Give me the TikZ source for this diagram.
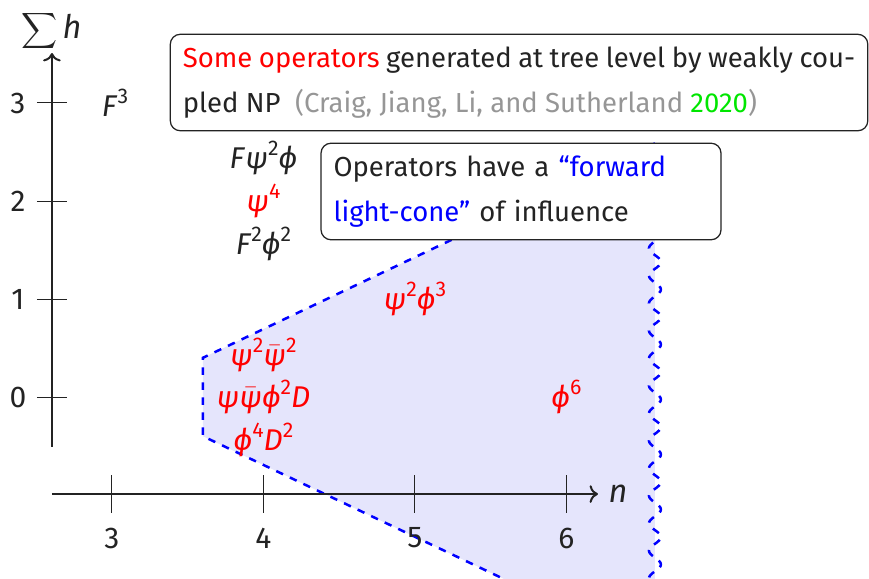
\documentclass[tikz,border=0pt]{standalone}
\usepackage{fontspec}
\setmainfont{Fira Sans}
\usepackage{tikz}
\usetikzlibrary{arrows.meta, decorations.pathmorphing}
\definecolor{conefill}{RGB}{229,229,252}
\definecolor{textdark}{RGB}{35,35,35}
\definecolor{citegray}{RGB}{150,150,150}
\definecolor{citegreen}{RGB}{0,230,0}
\newcommand{\fpsi}{\textit{ψ}}
\newcommand{\fphi}{\textit{ϕ}}
\newcommand{\fpsibar}{$\bar{\hbox{\textit{ψ}}}$}
\newcommand{\sps}[1]{\raisebox{0.42em}{\fontsize{8.5}{10}\selectfont #1}}
\tikzset{
  axis/.style={->, line width=0.8pt, color=textdark},
  tickmark/.style={line width=0.4pt, color=textdark},
  ticklabel/.style={font=\fontsize{12}{14}\selectfont, text=textdark},
  oplabel/.style={font=\fontsize{12}{14}\selectfont, text=textdark, inner sep=1pt},
  redop/.style={oplabel, text=red},
  conedge/.style={blue, dashed, line width=1pt},
  notebox/.style={rectangle, draw=textdark, fill=white, rounded corners=4pt,
    line width=0.5pt, inner sep=5pt, minimum height=36.4pt,
    font=\fontsize{11}{18}\selectfont, text=textdark}
}

\begin{document}
\begin{tikzpicture}[x=60.6pt, y=39.2pt]
  \useasboundingbox (2.261,-1.847) rectangle (7.997,4.051);
  \clip (2.261,-1.847) rectangle (7.997,4.051);

  % light cone
  \coordinate (cupleft) at (3.6,0.4);
  \coordinate (cdownleft) at (3.6,-0.4);
  \coordinate (cupright) at (6.584,2.588);
  \coordinate (cdownright) at (6.584,-2.588);
  \fill[conefill] (cupleft) -- (cupright) -- (cdownright) -- (cdownleft) -- cycle;
  \draw[conedge] (cupright) -- (cupleft) -- (cdownleft) -- (cdownright);
  \draw[conedge, decorate, decoration={snake, amplitude=2.4pt, segment length=11pt}]
    (cupright) -- (cdownright);

  % axes
  \coordinate (origin) at (2.604,-0.99);
  \coordinate (xend) at (6.208,-0.99);
  \coordinate (ystart) at (2.604,-0.51);
  \coordinate (yend) at (2.604,3.51);
  \draw[axis] (origin) -- (xend);
  \draw[axis] (ystart) -- (yend);
  \node[font=\fontsize{13}{15}\selectfont, text=textdark] (nlabel) at (6.34,-0.99) {\textit{n}};
  \node[font=\fontsize{13}{15}\selectfont, text=textdark, inner sep=0pt] (hlabel) at (2.6,3.73) {$\displaystyle\sum$\,\textit{h}};
  \foreach \n in {3,4,5,6} {
    \draw[tickmark] (\n,-0.99) ++(0,7.6pt) coordinate (xt\n) -- ++(0,-15.2pt);
    \node[ticklabel] (xl\n) at (\n,-1.44) {\n};
  }
  \foreach \h in {0,1,2,3} {
    \draw[tickmark] (2.604,\h) ++(-6pt,0) coordinate (yt\h) -- ++(12pt,0);
    \node[ticklabel] (yl\h) at (2.604,\h) [xshift=-13.6pt] {\h};
  }

  % operators
  \node[oplabel] (f3) at (3.02,3) {\textit{F}\sps{3}};
  \node[oplabel] (fpsiphi) at (4,2.44) {\textit{F}\fpsi\sps{2}\fphi};
  \node[redop] (psi4) at (4,2) {\fpsi\sps{4}};
  \node[oplabel] (f2phi2) at (4,1.56) {\textit{F}\sps{2}\fphi\sps{2}};
  \node[redop] (psi2phi3) at (5,1) {\fpsi\sps{2}\fphi\sps{3}};
  \node[redop] (psi2psibar2) at (4,0.43) {\fpsi\sps{2}\fpsibar\sps{2}};
  \node[redop] (psipsibarphi2d) at (4,0) {\fpsi\fpsibar\fphi\sps{2}\textit{D}};
  \node[redop] (phi4d2) at (4,-0.44) {\fphi\sps{4}\textit{D}\sps{2}};
  \node[redop] (phi6) at (6,0) {\fphi\sps{6}};

  % notes
  \node[notebox, text width=269pt, align=justify] (treebox) at (5.687,3.209)
    {{\color{red}Some operators} generated at tree level by weakly cou-\linebreak
     pled NP\ \ {\color{citegray}(Craig, Jiang, Li, and Sutherland {\color{citegreen}2020})}};
  \node[notebox, text width=150pt, align=left] (conebox) at (5.700,2.097)
    {Operators have a {\color{blue}“forward}\\{\color{blue}light-cone”} of influence};
\end{tikzpicture}
\end{document}
